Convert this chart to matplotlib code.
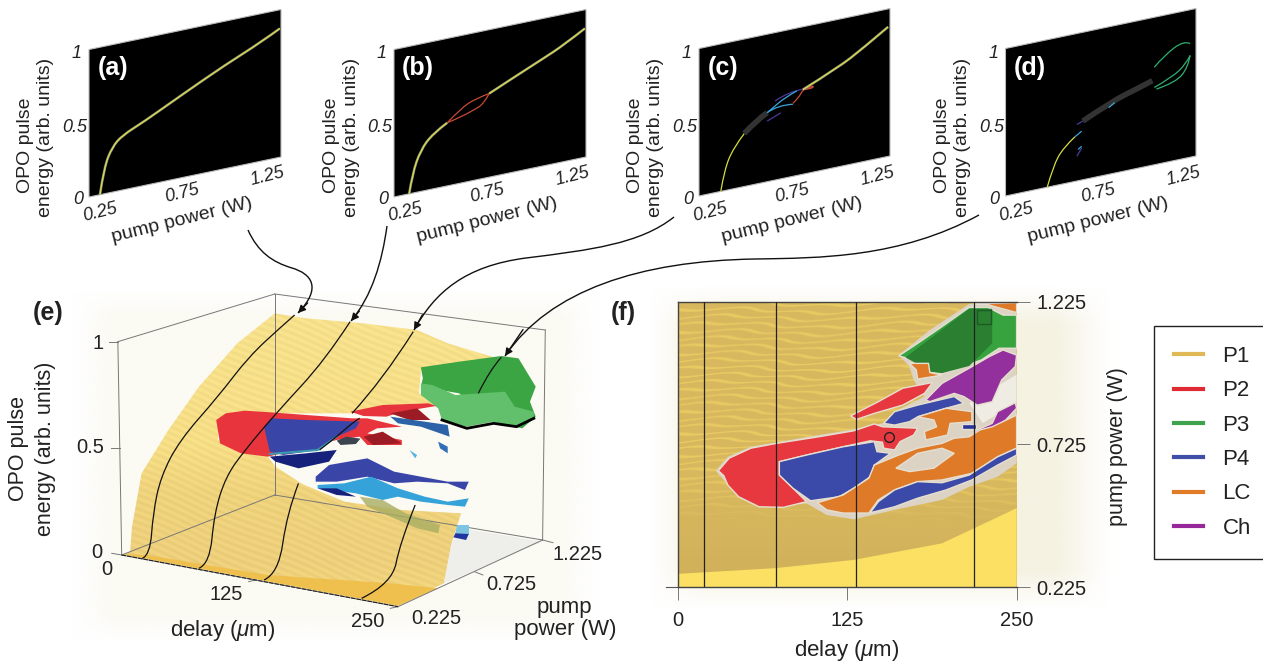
import numpy as np
import matplotlib
matplotlib.use("Agg")
import matplotlib.pyplot as plt
from matplotlib.colors import to_rgb
from matplotlib.lines import Line2D
from matplotlib.patches import Polygon, Rectangle, PathPatch
from matplotlib.path import Path
from matplotlib.transforms import Affine2D

plt.rcParams['font.family'] = ['Liberation Sans', 'DejaVu Sans']
plt.rcParams['mathtext.fontset'] = 'custom'
plt.rcParams['mathtext.it'] = 'Liberation Sans:italic'
plt.rcParams['mathtext.rm'] = 'Liberation Sans'

W, H = 1263, 664

# Energy curves, panels (a)-(d): (pump power, energy) ----
a_power = [0.307, 0.329, 0.371, 0.424, 0.531, 0.744, 0.956, 1.148, 1.244]
a_energy = [0.0, 0.182, 0.306, 0.371, 0.430, 0.568, 0.701, 0.808, 0.873]

b_low_power = [0.329, 0.346, 0.388, 0.452, 0.527]
b_low_energy = [0.0, 0.132, 0.279, 0.375, 0.428]
b_up_power = [0.527, 0.601, 0.676, 0.746]
b_up_energy = [0.428, 0.509, 0.552, 0.567]
b_dn_power = [0.527, 0.580, 0.665, 0.718, 0.746]
b_dn_energy = [0.428, 0.442, 0.476, 0.506, 0.567]
b_high_power = [0.746, 0.878, 1.027, 1.133, 1.244]
b_high_energy = [0.567, 0.644, 0.728, 0.790, 0.873]

c_low_power = [0.364, 0.383, 0.430, 0.487]
c_low_energy = [0.0, 0.142, 0.277, 0.359]
c_cloud_power = [0.487, 0.545, 0.607]
c_cloud_energy = [0.359, 0.427, 0.468]
c_blue1_power = [0.607, 0.659, 0.742]
c_blue1_energy = [0.468, 0.504, 0.489]
c_blue2_power = [0.607, 0.638, 0.700, 0.762]
c_blue2_energy = [0.468, 0.494, 0.545, 0.574]
c_red_power = [0.742, 0.773, 0.794, 0.825, 0.856, 0.835, 0.794]
c_red_energy = [0.495, 0.526, 0.574, 0.580, 0.584, 0.566, 0.574]
c_pur1_power = [0.648, 0.711, 0.794]
c_pur1_energy = [0.536, 0.577, 0.577]
c_pur2_power = [0.607, 0.679]
c_pur2_energy = [0.411, 0.448]
c_high_power = [0.794, 0.980, 1.105, 1.240]
c_high_energy = [0.574, 0.674, 0.766, 0.878]

d_low_power = [0.469, 0.500, 0.552, 0.615]
d_low_energy = [0.0, 0.133, 0.244, 0.303]
d_cloud_power = [0.656, 0.8125, 0.9375, 1.021]
d_cloud_energy = [0.398, 0.492, 0.538, 0.573]
d_blue1_power = [0.615, 0.650]
d_blue1_energy = [0.303, 0.331]
d_blue2_power = [0.631, 0.650]
d_blue2_energy = [0.212, 0.229]
d_blue3_power = [0.792, 0.823]
d_blue3_energy = [0.452, 0.478]
d_pur1_power = [0.625, 0.650]
d_pur1_energy = [0.168, 0.218]
d_pur2_power = [0.625, 0.656]
d_pur2_energy = [0.383, 0.398]
d_gr1_power = [1.031, 1.083, 1.1875, 1.219]
d_gr1_energy = [0.661, 0.727, 0.801, 0.770]
d_gr2_power = [1.031, 1.125, 1.198, 1.219]
d_gr2_energy = [0.524, 0.568, 0.639, 0.690]
d_gr3_power = [1.042, 1.146, 1.208, 1.219]
d_gr3_energy = [0.510, 0.528, 0.613, 0.690]

# Regions of the map, panel (f): delay, pump power ----
halo_d = [28, 37, 54, 104, 130, 151, 160, 182, 174, 171, 163, 186, 215, 230, 250, 250, 236, 215, 195, 160, 130, 110, 95, 60, 45, 34]
halo_p = [.633, .682, .717, .758, .778, .799, .840, .893, .951, .998, 1.038, 1.126, 1.217, 1.213, 1.184, .659, .612, .577, .531, .496, .463, .478, .519, .505, .540, .601]
p2_big_d = [30, 38, 54, 73, 104, 130, 145, 151, 177, 174, 164, 160, 152, 151, 142, 122, 95, 75, 75, 85, 95, 78, 60, 45, 37, 34]
p2_big_p = [.633, .677, .712, .729, .752, .773, .797, .787, .782, .758, .735, .706, .712, .733, .738, .717, .688, .665, .618, .572, .525, .505, .507, .542, .583, .616]
p4_big_d = [75, 95, 122, 145, 147, 157, 145, 142, 130, 119, 98, 85, 75]
p4_big_p = [.665, .688, .717, .735, .700, .694, .653, .612, .572, .542, .528, .572, .618]
p2_stripe_d = [127.5, 148, 166, 188, 182, 166, 145, 132]
p2_stripe_p = [.825, .875, .922, .942, .904, .863, .834, .813]
p3_d = [163, 177, 195, 215, 229, 240, 250, 250, 237, 224, 207, 195, 186, 185, 175]
p3_p = [1.035, 1.079, 1.138, 1.205, 1.205, 1.178, 1.178, 1.062, 1.062, 1.021, .992, .974, .977, 1.009, 1.021]
p3_dark_d = [168, 215, 232, 232, 215, 195, 187]
p3_dark_p = [1.03, 1.2, 1.2, 1.079, 1.0, .975, .98]
lc_top_d = [171, 185, 186, 195, 177, 176]
lc_top_p = [1.009, 1.009, .977, .968, .954, .986]
lc_corner_d = [218, 250, 250, 236, 227]
lc_corner_p = [1.217, 1.222, 1.187, 1.205, 1.217]
ch_big_d = [183, 195, 215, 230, 240, 250, 249, 239, 232, 221, 211, 204, 186]
ch_big_p = [.881, .939, .992, 1.033, 1.056, 1.038, .998, .951, .875, .863, .893, .904, .875]
ch_small_d = [236, 249, 250, 242, 233, 223, 217, 208, 204, 212, 221, 232]
ch_small_p = [.840, .871, .852, .811, .782, .764, .729, .688, .694, .741, .776, .799]
p4_mid_d = [152, 160, 177, 204, 211, 198, 177, 171, 160]
p4_mid_p = [.799, .840, .863, .893, .869, .852, .822, .805, .793]
lc_mid_d = [177, 198, 217, 217, 201, 199, 183, 182, 191, 189]
lc_mid_p = [.822, .852, .840, .805, .799, .758, .741, .770, .787, .811]
lc_low_d = [103, 122, 141, 145, 163, 177, 195, 204, 215, 223, 232, 250, 250, 236, 217, 195, 177, 160, 148, 141, 122, 110]
lc_low_p = [.521, .548, .607, .653, .688, .712, .729, .747, .752, .776, .787, .828, .712, .682, .624, .601, .595, .566, .531, .485, .485, .496]
hole_d = [161, 177, 195, 204, 189, 171]
hole_p = [.642, .694, .712, .694, .642, .630]
p4_low_d = [142, 148, 160, 177, 195, 215, 236, 250, 250, 236, 217, 198, 177, 160]
p4_low_p = [.486, .525, .566, .595, .591, .618, .682, .712, .688, .653, .601, .566, .537, .507]
p4_small_d = [210, 220, 220, 210]
p4_small_p = [.797, .797, .779, .779]
edge_d = [0, 72, 130, 195, 221, 242, 250, 250, 0]
edge_p = [.272, .292, .321, .379, .437, .484, .502, .225, .225]
f_sections = [19.6, 72.4, 131.3, 218.4]

# Legend ----
legend_names = ["P1", "P2", "P3", "P4", "LC", "Ch"]
legend_colors = ["#e0b855", "#e02b35", "#3fa34d", "#3f4fa8", "#e07b27", "#96289a"]

# Panel (e) outlines, in panel units (1568 x 1152) ----
surface = [(340, 815), (345, 740), (370, 580), (440, 450), (520, 320), (620, 190), (718, 100), (800, 115), (950, 130),
           (1090, 150), (1170, 190), (1300, 235), (1100, 270), (1095, 340), (1140, 375), (1000, 380), (920, 400), (700, 400),
           (570, 420), (570, 480), (700, 530), (720, 560), (790, 612), (900, 665), (1050, 690), (1205, 700), (1180, 790),
           (1160, 910), (1040, 975), (320, 825)]
floor_band = [(320, 822), (1040, 978), (1145, 925), (1020, 910), (700, 885), (540, 855), (385, 825)]
shadow = [(1180, 790), (1205, 745), (1418, 785), (1160, 910)]
green_dark = [(1100, 262), (1200, 245), (1310, 228), (1355, 235), (1400, 320), (1385, 365), (1400, 410), (1365, 445),
              (1290, 425), (1200, 340), (1100, 320), (1105, 295)]
green_light = [(1100, 310), (1130, 315), (1190, 345), (1320, 335), (1345, 380), (1395, 395), (1395, 415), (1350, 440),
               (1290, 425), (1220, 440), (1155, 420), (1145, 385), (1100, 345)]
green_under_x = [1155, 1220, 1290, 1350, 1395]
green_under_y = [420, 445, 430, 440, 415]
red_left = [(565, 420), (590, 400), (640, 392), (720, 398), (800, 405), (920, 415), (960, 415), (1050, 440), (985, 445),
            (960, 460), (1050, 480), (1050, 495), (960, 495), (940, 470), (880, 480), (700, 530), (630, 520), (575, 490)]
red_top = [(915, 395), (1000, 375), (1120, 370), (1140, 378), (1050, 395), (1010, 410), (950, 408)]
red_dark1 = [(1020, 400), (1090, 385), (1125, 420), (1070, 420)]
red_dark2 = [(950, 470), (1000, 455), (1050, 490), (975, 495)]
blue_up = [(690, 440), (710, 415), (800, 420), (940, 425), (930, 445), (880, 470), (830, 510), (740, 525), (705, 515)]
navy_up = [(705, 530), (800, 520), (880, 510), (860, 545), (780, 565), (720, 545)]
grey_spot = [(880, 482), (905, 470), (942, 476), (930, 492), (890, 495)]
blue_top = [(1020, 410), (1170, 435), (1175, 470), (1100, 440), (1040, 430)]
bit_blue = [(1145, 485), (1170, 500), (1170, 520), (1150, 505)]
bit_light = [(1070, 510), (1090, 525), (1085, 535)]
blue_low = [(825, 590), (860, 555), (960, 535), (1030, 575), (1100, 590), (1170, 605), (1225, 605), (1215, 630),
            (1170, 610), (1090, 605), (1030, 610), (960, 590), (880, 605), (825, 605)]
light_low = [(830, 615), (900, 610), (970, 590), (1040, 625), (1110, 650), (1170, 665), (1225, 655), (1215, 680),
             (1170, 675), (1100, 665), (1040, 650), (1000, 660), (930, 640), (830, 625)]
navy_low = [(830, 625), (880, 625), (930, 650), (880, 645)]
olive = [(940, 650), (1000, 660), (1060, 700), (1150, 735), (1145, 760), (1090, 745), (1020, 710), (960, 680)]
corner_light = [(1195, 735), (1225, 735), (1225, 765), (1190, 765)]
corner_navy = [(1190, 760), (1225, 762), (1218, 780), (1185, 772)]
e_sections = [
    ([372, 392, 400, 420, 470, 570, 650, 735, 770], [835, 825, 700, 590, 480, 350, 230, 140, 105]),
    ([520, 548, 560, 590, 640, 725, 850, 915], [865, 850, 700, 590, 510, 395, 240, 125]),
    ([690, 728, 750, 780], [900, 880, 700, 610]),
    ([920, 1000, 1080], [400, 300, 155]),
    ([945, 1025, 1045, 1085], [955, 910, 790, 675]),
    ([1250, 1280, 1310], [340, 270, 232]),
    ([835, 880, 930, 940], [510, 470, 420, 415]),
]


def smooth_path(xs, ys):
    # quadratic pieces with the read points as control points
    pts = np.column_stack([xs, ys]).astype(float)
    if len(pts) < 3:
        return Path(pts)
    verts = [pts[0]]
    codes = [Path.MOVETO]
    for i in range(1, len(pts) - 1):
        end = pts[i + 1] if i == len(pts) - 2 else (pts[i] + pts[i + 1]) / 2
        verts += [pts[i], end]
        codes += [Path.CURVE3, Path.CURVE3]
    return Path(verts, codes)


def glow(ax, extent, color, edge):
    # soft rectangle behind a panel
    ny, nx = 120, 200
    xs = np.minimum(np.linspace(0, 1, nx), np.linspace(1, 0, nx)) / edge
    ys = np.minimum(np.linspace(0, 1, ny), np.linspace(1, 0, ny)) / edge
    alpha = np.clip(ys[:, None], 0, 1) * np.clip(xs[None, :], 0, 1)
    img = np.zeros((ny, nx, 4))
    img[..., :3] = to_rgb(color)
    img[..., 3] = alpha
    ax.imshow(img, extent=extent, aspect='auto', zorder=0, interpolation='bilinear')


fig = plt.figure(figsize=(W / 100, H / 100), dpi=100)

# Panel (e) ----
ax_e = fig.add_axes([0, 0, 600 / W, 384 / H], zorder=1)
ax_e.set_xlim(0, 1568)
ax_e.set_ylim(1152, 0)
ax_e.axis('off')
glow(ax_e, (185, 1568, 1090, 25), "#fbfaf3", 0.08)

# sheet: bright on top, golden below, with faint ripples
ny, nx = 300, 320
yy, xx = np.mgrid[0:ny, 0:nx]
stops_y = [0, 0.45, 0.62, 0.85, 1.0]
stops_c = [to_rgb(c) for c in ["#f7e18c", "#f6de86", "#efd27c", "#eed07c", "#f3d67e"]]
sheet_img = np.zeros((ny, nx, 3))
for i in range(3):
    sheet_img[..., i] = np.interp(yy / (ny - 1), stops_y, [c[i] for c in stops_c])
ripple = np.sin(yy * 0.9 - xx * 0.45 + 1.5 * np.sin(xx / 19.0))
sheet_img = np.clip(sheet_img + (ripple * 0.018)[..., None], 0, 1)
sheet = ax_e.imshow(sheet_img, extent=(320, 1300, 980, 100), aspect='auto', zorder=1)
sheet.set_clip_path(Polygon(surface, closed=True, transform=ax_e.transData))
ax_e.set_xlim(0, 1568)
ax_e.set_ylim(1152, 0)

ax_e.add_patch(Polygon(shadow, fc="#ebebe8", ec='none', alpha=0.8, zorder=1))
ax_e.add_patch(Polygon(floor_band, fc="#efbe48", ec='none', alpha=0.9, zorder=2))

e_patches = [
    (green_dark, "#3ba544"), (green_light, "#62bf6b"),
    (red_left, "#e8343c"), (red_top, "#e8343c"), (red_dark1, "#9c1c26"), (red_dark2, "#9c1c26"),
    (blue_top, "#2c62a8"), (navy_up, "#16217c"), (blue_up, "#3a45a8"), (grey_spot, "#3c4450"),
    (bit_blue, "#2f6fb8"), (bit_light, "#5ab4e0"),
    (blue_low, "#3a45a8"), (light_low, "#35a3da"), (navy_low, "#16217c"),
    (corner_light, "#7cc4e0"), (corner_navy, "#1f35a0"),
]
for outline, col in e_patches:
    ax_e.add_patch(Polygon(outline, fc=col, ec='none', zorder=3))
ax_e.add_patch(Polygon(olive, fc="#a8ad62", ec='none', alpha=0.8, zorder=3))
ax_e.plot(green_under_x, green_under_y, color='k', lw=2, zorder=3)
ax_e.plot([705, 830, 880], [522, 510, 470], color="#3a9bb0", lw=1.5, zorder=3)

for xs, ys in e_sections:
    ax_e.add_patch(PathPatch(smooth_path(xs, ys), fc='none', ec='#111111', lw=0.9, zorder=4))

# box of the 3D view
box_edges = [((308, 318), (185, 825)), ((718, 718), (42, 645)), ((1425, 1418), (150, 780)),
             ((308, 718), (185, 42)), ((718, 1425), (42, 150)), ((318, 718), (825, 645)),
             ((718, 1418), (645, 780)), ((1040, 1418), (980, 780)), ((318, 1040), (825, 980)),
             ((285, 308), (185, 185)), ((290, 314), (505, 505)), ((292, 318), (820, 825)),
             ((1020, 1040), (985, 980)), ((1418, 1445), (780, 788)), ((650, 668), (905, 900)),
             ((1240, 1262), (875, 885))]
for xs, ys in box_edges:
    ax_e.plot(xs, ys, color='#777777', lw=0.7, zorder=2.5)
ax_e.plot([318, 1040], [825, 980], color='#222222', lw=0.8, ls=(0, (4, 1)), zorder=4)

e_ticks = [("1", 255, 190), ("0.5", 235, 503), ("0", 253, 818), ("0", 280, 868), ("125", 592, 942), ("250", 962, 1025),
           ("1.225", 1510, 825), ("0.725", 1335, 915), ("0.225", 1140, 1015)]
for label, x, y in e_ticks:
    ax_e.text(x, y, label, ha='center', va='center', fontsize=14.5, color='#222222', zorder=5)
ax_e.text(582, 1052, r"delay ($\mu$m)", ha='center', va='center', fontsize=16, color='#222222')
ax_e.text(1476, 1015, "pump\npower (W)", ha='center', va='center', fontsize=16, color='#222222', linespacing=1.1)
ax_e.text(48, 505, "OPO pulse", rotation=90, ha='center', va='center', fontsize=15.5, color='#222222')
ax_e.text(118, 505, "energy (arb. units)", rotation=90, ha='center', va='center', fontsize=15.5, color='#222222')
ax_e.text(125, 100, "(e)", ha='center', va='center', fontsize=18, fontweight='bold', color='#222222')

# Panel (f) ----
ax_bg = fig.add_axes([0, 0, 1, 1], zorder=0.5)
ax_bg.set_xlim(0, W)
ax_bg.set_ylim(H, 0)
ax_bg.axis('off')
glow(ax_bg, (648, 1112, 610, 285), "#f5f2e2", 0.12)
ax_bg.set_xlim(0, W)
ax_bg.set_ylim(H, 0)

ax_f = fig.add_axes([677.7 / W, 1 - 587.3 / H, 338.9 / W, 285.6 / H], zorder=1)
ax_f.set_xlim(0, 250)
ax_f.set_ylim(0.225, 1.225)

# water-like stripes of the P1 area
ny, nx = 290, 340
yy, xx = np.mgrid[0:ny, 0:nx]
wave = np.sin(yy * 0.85 + 2.0 * np.sin(xx / 30.0) + 1.2 * np.sin(xx / 11.0 + yy * 0.3))
stripes = np.clip(wave * 1.1 - 0.45, 0, 1)
fade = np.clip((225 - yy) / 50.0, 0, 1)[..., None]
base = np.array(to_rgb("#d8b85e")) * np.clip(1.0 - np.clip(yy - 190, 0, 100) / 100.0 * 0.04, 0, 1)[..., None]
light = np.array(to_rgb("#f4d666"))
texture = base + (light - base) * stripes[..., None] * fade
ax_f.imshow(texture, extent=(0, 250, 0.225, 1.225), aspect='auto', zorder=0, origin='upper', interpolation='bilinear')

ax_f.add_patch(Polygon(np.column_stack([edge_d, edge_p]), fc="#fbe063", ec='none', zorder=1))
ax_f.add_patch(Polygon(np.column_stack([halo_d, halo_p]), fc="#dcd3c4", ec='none', zorder=1.5))
ax_f.add_patch(Polygon(np.column_stack([[215, 250, 250, 225], [.87, .97, .87, .80]]), fc="#efece4", ec='none', zorder=1.6))

f_regions = [
    (p2_big_d, p2_big_p, "#e8383f"), (p4_big_d, p4_big_p, "#3b4aa8"), (p2_stripe_d, p2_stripe_p, "#e8383f"),
    (p3_d, p3_p, "#36a33f"), (p3_dark_d, p3_dark_p, "#2a7f31"), (lc_top_d, lc_top_p, "#df7a28"),
    (lc_corner_d, lc_corner_p, "#df7a28"), (ch_big_d, ch_big_p, "#93309e"), (ch_small_d, ch_small_p, "#93309e"),
    (p4_mid_d, p4_mid_p, "#3b4aa8"), (lc_mid_d, lc_mid_p, "#df7a28"), (lc_low_d, lc_low_p, "#df7a28"),
    (hole_d, hole_p, "#dcd3c4"), (p4_low_d, p4_low_p, "#3b4aa8"), (p4_small_d, p4_small_p, "#27359c"),
]
for ds, ps, col in f_regions:
    edge = 'none' if col == "#2a7f31" else '#e6dfd0'
    ax_f.add_patch(Polygon(np.column_stack([ds, ps]), fc=col, ec=edge, lw=1.0, zorder=2))

for d in f_sections:
    ax_f.axvline(d, color='#222222', lw=0.9, zorder=3)
ax_f.plot([156], [.752], 'o', mfc='none', mec='#222222', ms=7, mew=1, zorder=4)
ax_f.plot([226], [1.17], 's', mfc='none', mec='#1d5a24', ms=10, mew=1, zorder=4)

for side in ['top', 'left', 'right', 'bottom']:
    ax_f.spines[side].set_color('#444444')
    ax_f.spines[side].set_linewidth(1.0)
ax_f.spines['right'].set_visible(False)
ax_f.set_xticks([0, 125, 250])
ax_f.set_xticklabels(["0", "125", "250"], fontsize=14.5, color='#222222')
ax_f.yaxis.tick_right()
ax_f.set_yticks([0.225, 0.725, 1.225])
ax_f.set_yticklabels(["0.225", "0.725", "1.225"], fontsize=14.5, color='#222222')
ax_f.tick_params(axis='x', length=9, width=0.7, color='#777777', pad=8)
ax_f.tick_params(axis='y', length=9, width=0.7, color='#777777', pad=5)
ax_f.plot([-0.035, 0], [0, 0], transform=ax_f.transAxes, color='#555555', lw=0.8, clip_on=False)
ax_f.set_xlabel(r"delay ($\mu$m)", fontsize=16, color='#222222', labelpad=6)

# Legend ----
handles = [Line2D([0], [0], color=c, lw=3) for c in legend_colors]
leg = fig.legend(handles, legend_names, loc='upper left', bbox_to_anchor=(1153.7 / W, 1 - 325.7 / H),
                 frameon=True, fancybox=False, edgecolor='#222222', framealpha=1, fontsize=16,
                 handlelength=1.28, handletextpad=0.9, labelspacing=0.6, borderpad=0.92, borderaxespad=0,
                 labelcolor='#222222')
leg.get_frame().set_linewidth(1.0)

# Top panels (a)-(d) and arrows ----
ax_top = fig.add_axes([0, 0, 1, 1], zorder=3)
ax_top.set_xlim(0, W)
ax_top.set_ylim(H, 0)
ax_top.axis('off')
ax_top.patch.set_visible(False)


def panel_transform(x0, y0, width, rise, height):
    # sheared plane: pump power along the rising edge, energy upwards
    return Affine2D(np.array([[width, 0, x0 - 0.25 * width],
                              [-rise, -height, y0 + 0.25 * rise],
                              [0, 0, 1]])) + ax_top.transData


YEL, GREY = "#d9dc3c", "#8a8a8a"
RED, LBLUE, PURPLE, GREEN = "#c94a35", "#3aa6dd", "#4a3a9c", "#2fb070"
CLOUD = "#333333"

panels = [
    ("(a)", 89, 192, 197, [(a_power, a_energy, YEL, True)]),
    ("(b)", 394, 192, 197, [(b_low_power, b_low_energy, YEL, True), (b_up_power, b_up_energy, RED, False),
                            (b_dn_power, b_dn_energy, RED, False), (b_high_power, b_high_energy, YEL, True)]),
    ("(c)", 699, 191, 196, [(c_low_power, c_low_energy, YEL, False), (c_cloud_power, c_cloud_energy, CLOUD, False),
                            (c_pur1_power, c_pur1_energy, PURPLE, False), (c_pur2_power, c_pur2_energy, PURPLE, False),
                            (c_blue1_power, c_blue1_energy, LBLUE, False), (c_blue2_power, c_blue2_energy, LBLUE, False),
                            (c_red_power, c_red_energy, RED, False), (c_high_power, c_high_energy, YEL, True)]),
    ("(d)", 1005.5, 190.5, 196, [(d_low_power, d_low_energy, YEL, False), (d_cloud_power, d_cloud_energy, CLOUD, False),
                                 (d_blue1_power, d_blue1_energy, LBLUE, False), (d_blue2_power, d_blue2_energy, LBLUE, False),
                                 (d_blue3_power, d_blue3_energy, LBLUE, False), (d_pur1_power, d_pur1_energy, PURPLE, False),
                                 (d_pur2_power, d_pur2_energy, PURPLE, False), (d_gr1_power, d_gr1_energy, GREEN, False),
                                 (d_gr2_power, d_gr2_energy, GREEN, False), (d_gr3_power, d_gr3_energy, GREEN, False)]),
]

for name, x0, width, y0, curves in panels:
    tf = panel_transform(x0, y0, width, 40, 147.5)
    ax_top.add_patch(Rectangle((0.25, 0), 1, 1, fc='k', ec='#bbbbbb', lw=0.8, transform=tf))
    for ps, es, col, halo in curves:
        line = smooth_path(ps, es)
        if halo:
            ax_top.add_patch(PathPatch(line, fc='none', ec=GREY, lw=1.8, transform=tf))
        lw = 4.0 if col == CLOUD else 0.9
        ax_top.add_patch(PathPatch(line, fc='none', ec=col, lw=lw, transform=tf))
    dx = x0 - 89
    ax_top.text(113 + dx, 68, name, ha='center', va='center', fontsize=18, fontweight='bold', color='white')
    for label, tx, ty in [("1", 77, 53), ("0.5", 75, 127), ("0", 78, 200)]:
        ax_top.text(tx + dx, ty, label, ha='center', va='center', fontsize=13, style='italic', color='#222222')
    for label, tx, ty in [("0.25", 100, 212), ("0.75", 182, 193), ("1.25", 267, 176)]:
        ax_top.text(tx + dx, ty, label, ha='center', va='center', fontsize=13, style='italic', rotation=14, color='#222222')
    ax_top.text(182 + dx, 220, "pump power (W)", ha='center', va='center', fontsize=14, rotation=14, color='#222222')
    ax_top.text(26 + dx, 145, "OPO pulse", rotation=90, ha='center', va='center', fontsize=14, color='#222222')
    ax_top.text(46 + dx, 137, "energy (arb. units)", rotation=90, ha='center', va='center', fontsize=14, color='#222222')

arrow_paths = [
    [(248, 230), (258, 252), (272, 262), (292, 268), (312, 274), (322, 288), (298, 313)],
    [(387, 226), (382, 262), (372, 296), (351, 321), (351, 321), (351, 321), (351, 321)],
    [(674, 217), (640, 244), (590, 250), (526, 258), (465, 266), (435, 292), (414, 330)],
    [(979, 215), (900, 258), (820, 258), (755, 259), (640, 261), (550, 290), (505, 356)],
]
for pts in arrow_paths:
    codes = [Path.MOVETO] + [Path.CURVE4] * 6
    ax_top.add_patch(PathPatch(Path(pts, codes), fc='none', ec='#111111', lw=1.0))
    tip = pts[-1]
    before = pts[2] if pts[3] == pts[-1] else pts[-2]
    ax_top.annotate("", xy=tip, xytext=(tip[0] + (before[0] - tip[0]) * 0.4, tip[1] + (before[1] - tip[1]) * 0.4),
                    arrowprops=dict(arrowstyle='-|>', color='#111111', lw=1.0, mutation_scale=11, shrinkA=0, shrinkB=0))

ax_top.text(623, 313, "(f)", ha='center', va='center', fontsize=18, fontweight='bold', color='#222222')
ax_top.text(1117, 447, "pump power (W)", rotation=90, ha='center', va='center', fontsize=15.5, color='#222222')

fig.savefig("out.png", dpi=100)
